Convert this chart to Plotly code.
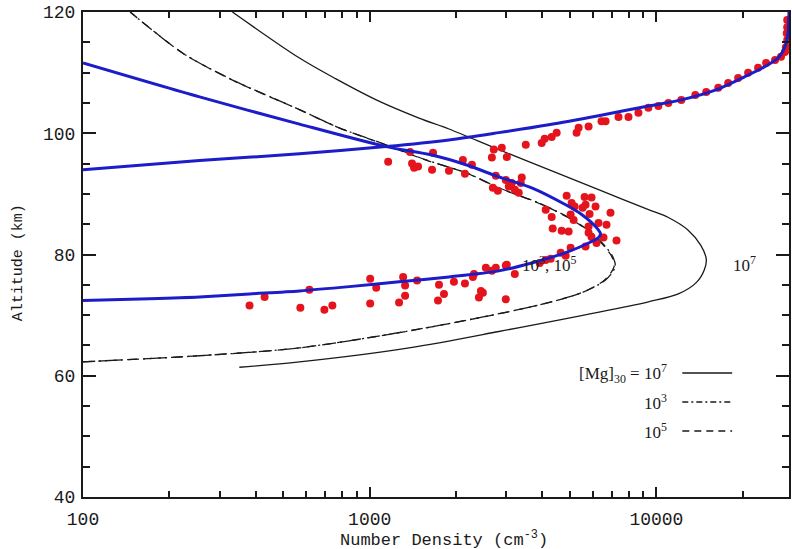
import plotly.graph_objects as go

# ---------------- data ----------------
# measured Mg+ number densities (cm^-3) and altitudes (km)
dots_n = [381, 430, 573, 616, 695, 741, 1004, 1054, 1004, 1308, 1329, 1329, 1266, 1463, 1745, 1816, 1731, 1967, 2149, 2310,
          2291, 2443, 2482, 2404, 2668, 2754, 2984, 3008, 3208, 2984, 2542,
          3918, 4111, 4279, 4636, 4826, 5022, 5663, 6183, 7260, 6541, 5941, 5800, 4942, 4673, 4348, 5800, 6700, 6283, 6918,
          5848, 5144, 5022, 4313, 4111, 6134, 5529, 5663, 5185, 5062, 4864, 5618, 5941,
          1160, 1383, 1405, 1428, 1475, 1663, 1650, 1890, 2114, 2273, 2149, 2710, 2890, 2668, 3008, 2754, 2984, 3131, 3392,
          3365, 2689, 2799, 3057, 3208, 3311,
          3503, 3981, 4077, 4313, 4489, 5268, 5356, 5800, 6437, 6648, 7377, 7992, 8658, 9380, 10162, 11010, 12218, 13670,
          14928, 16437, 17804, 19285, 20893, 22635, 24140, 25940, 27210, 28100, 28300, 28600, 28600, 28600, 28500]
dots_alt = [71.6, 73.0, 71.2, 74.2, 70.9, 71.6, 76.0, 74.5, 71.9, 76.3, 74.9, 73.2, 72.1, 75.7, 75.0, 73.5, 72.4, 75.5, 75.2, 76.8,
            76.3, 74.0, 73.7, 72.9, 77.3, 77.8, 78.2, 78.3, 76.8, 72.6, 77.8,
            78.6, 79.1, 79.3, 80.3, 79.8, 81.1, 81.3, 81.9, 82.3, 82.8, 82.9, 83.6, 83.8, 83.9, 84.3, 84.6, 84.9, 85.2, 86.9,
            86.7, 85.7, 86.6, 86.2, 87.4, 87.9, 87.7, 88.2, 87.9, 88.5, 89.7, 89.5, 89.4,
            95.3, 96.9, 95.0, 94.3, 94.5, 96.8, 94.0, 93.8, 95.6, 94.8, 93.3, 97.3, 97.6, 96.0, 96.1, 93.0, 92.3, 91.8, 92.7,
            91.8, 91.0, 90.5, 91.2, 90.7, 90.2,
            98.1, 98.4, 99.1, 99.4, 100.1, 100.1, 100.9, 101.1, 102.0, 102.0, 102.7, 102.7, 103.4, 104.2, 104.5, 105.0, 105.5, 106.3,
            106.8, 107.5, 108.3, 109.1, 110.0, 110.8, 111.6, 112.1, 112.6, 113.4, 114.2, 115.4, 117.5, 118.7, 116.5]
assert len(dots_n) == len(dots_alt)

# blue model curves
blueA_n = [100, 171, 255, 381, 569, 849, 1267, 1890, 2822, 3675, 4826, 5803, 6287, 6385, 6134, 5488, 4826, 3675,
           2822, 2166, 1648, 1140, 569, 255, 100]
blueA_alt = [72.4, 72.7, 73.0, 73.5, 74.0, 74.7, 75.5, 76.3, 77.3, 78.6, 80.3, 81.9, 82.8, 83.4, 84.6, 86.6, 88.2, 91.0,
             92.8, 94.8, 96.4, 97.8, 101.5, 106.0, 111.6]
blueB_n = [100, 255, 569, 1140, 1890, 2822, 4212, 6287, 9384, 12218, 16040, 20890, 23930, 26560, 28100, 28770, 29010]
blueB_alt = [94.0, 95.5, 96.6, 97.8, 98.9, 100.1, 101.4, 102.9, 104.5, 105.5, 107.1, 109.6, 111.0, 112.4, 114.3, 116.5, 120.0]

# [Mg]30 = 1e7 (solid)
mg7_n = [351, 569, 1372, 2822, 9384, 11930, 13800, 14700, 14930, 14290, 12910, 11010, 9384, 6287, 4212, 2822, 1890,
         1486, 1054, 760, 569, 332]
mg7_alt = [61.4, 62.3, 64.6, 67.3, 72.2, 73.5, 75.4, 77.5, 79.2, 81.5, 84.0, 86.1, 87.4, 90.7, 94.0, 97.3, 100.7,
           102.5, 105.5, 109.0, 112.4, 120.0]
# [Mg]30 = 1e3 (dash-dot)
mg3_n = [100, 255, 569, 1451, 3675, 5488, 6648, 7190, 7055, 6648, 5941, 4942, 3888, 2822, 2166, 1572, 1140, 783, 569,
         332, 223, 146]
mg3_alt = [62.3, 63.3, 64.6, 67.6, 71.4, 73.7, 75.8, 78.0, 79.6, 81.3, 83.6, 86.1, 88.5, 91.0, 93.5, 95.6, 98.1, 100.9,
           103.9, 108.8, 113.2, 120.0]
# [Mg]30 = 1e5 (dashed)
mg5_n = [100, 255, 569, 1451, 3675, 5488, 6600, 7120, 7000, 6600, 5900, 4920, 3870, 2810, 2160, 1566, 1136, 781, 568,
         331, 223, 146]
mg5_alt = [62.3, 63.3, 64.6, 67.6, 71.4, 73.7, 75.8, 78.0, 79.6, 81.3, 83.6, 86.1, 88.5, 91.0, 93.5, 95.6, 98.1, 100.9,
           103.9, 108.8, 113.2, 120.0]

x_tickvals = [100, 1000, 10000]
x_ticktext = ["100", "1000", "10000"]
y_tickvals = [40, 60, 80, 100, 120]

# ---------------- figure ----------------
W, H = 792, 549
ML, MR, MT, MB = 83, 1, 12, 52
PW, PH = W - ML - MR, H - MT - MB


def px(x):
    return (x - ML) / PW


def py(y):
    return (H - MB - y) / PH


BLACK = "#1a1a1a"
BLUE = "#1c1cc8"
RED = "#e5141c"

fig = go.Figure()
fig.add_trace(go.Scatter(x=mg7_n, y=mg7_alt, mode="lines", line=dict(color=BLACK, width=1.3, shape="spline", smoothing=0.9),
                         hoverinfo="skip"))
fig.add_trace(go.Scatter(x=mg3_n, y=mg3_alt, mode="lines", line=dict(color=BLACK, width=1.3, dash="12px,4px,2px,4px",
                         shape="spline", smoothing=0.8), hoverinfo="skip"))
fig.add_trace(go.Scatter(x=mg5_n, y=mg5_alt, mode="lines", line=dict(color=BLACK, width=1.3, dash="9px,6px",
                         shape="spline", smoothing=0.8), hoverinfo="skip"))
fig.add_trace(go.Scatter(x=dots_n, y=dots_alt, mode="markers", marker=dict(color=RED, size=8, line=dict(width=0))))
fig.add_trace(go.Scatter(x=blueA_n, y=blueA_alt, mode="lines", line=dict(color=BLUE, width=3, shape="spline", smoothing=0.8)))
fig.add_trace(go.Scatter(x=blueB_n, y=blueB_alt, mode="lines", line=dict(color=BLUE, width=3, shape="spline", smoothing=0.8)))

tickfont = dict(family="Liberation Mono", size=18, color=BLACK)

fig.update_xaxes(type="log", range=[2, 4.4626], tickvals=x_tickvals, ticktext=x_ticktext,
                 ticks="inside", ticklen=10, tickwidth=1.5, tickcolor=BLACK,
                 minor=dict(tickvals=[200, 300, 400, 500, 600, 700, 800, 900, 2000, 3000, 4000, 5000, 6000, 7000,
                                      8000, 9000, 20000], ticks="inside", ticklen=6, tickwidth=1.5, tickcolor=BLACK),
                 showline=True, linewidth=2, linecolor=BLACK, mirror="ticks", showgrid=False, zeroline=False,
                 tickfont=tickfont, ticklabelstandoff=4)
fig.update_yaxes(range=[40, 120], tickvals=y_tickvals, ticks="inside", ticklen=13, tickwidth=1.5, tickcolor=BLACK,
                 minor=dict(dtick=5, ticks="inside", ticklen=7, tickwidth=1.5, tickcolor=BLACK),
                 showline=True, linewidth=2, linecolor=BLACK, mirror="ticks", showgrid=False, zeroline=False,
                 tickfont=tickfont, ticklabelstandoff=2)

annfont = dict(family="Liberation Serif", size=17, color=BLACK)
anns = [
    dict(x=px(445), y=py(539), text="Number Density (cm<sup>-3</sup>)",
         font=dict(family="Liberation Mono", size=17, color=BLACK)),
    dict(x=px(18), y=py(263), text="Altitude (km)", textangle=-90,
         font=dict(family="Liberation Mono", size=15, color=BLACK)),
    dict(x=px(671), y=py(373), text="[Mg]<sub>30</sub> = 10<sup>7</sup>", xanchor="right", font=annfont),
    dict(x=px(671), y=py(402), text="10<sup>3</sup>", xanchor="right", font=annfont),
    dict(x=px(671), y=py(431), text="10<sup>5</sup>", xanchor="right", font=annfont),
    dict(x=px(746), y=py(264), text="10<sup>7</sup>", font=annfont),
    dict(x=px(550), y=py(264), text="10<sup>3</sup>, 10<sup>5</sup>", font=annfont),
]
for a in anns:
    a.setdefault("xanchor", "center")
    a.update(xref="paper", yref="paper", yanchor="middle", showarrow=False)
fig.update_layout(annotations=anns)

fig.add_shape(type="line", xref="paper", yref="paper", x0=px(684), x1=px(734), y0=py(373), y1=py(373),
              line=dict(color=BLACK, width=1.3))
fig.add_shape(type="line", xref="paper", yref="paper", x0=px(684), x1=px(734), y0=py(402), y1=py(402),
              line=dict(color=BLACK, width=1.3, dash="6px,3px,2px,3px"))
fig.add_shape(type="line", xref="paper", yref="paper", x0=px(684), x1=px(734), y0=py(431), y1=py(431),
              line=dict(color=BLACK, width=1.3, dash="7px,5px"))

fig.update_layout(width=W, height=H, margin=dict(l=ML, r=MR, t=MT, b=MB), paper_bgcolor="white",
                  plot_bgcolor="white", showlegend=False)

fig.write_html("out.html")
